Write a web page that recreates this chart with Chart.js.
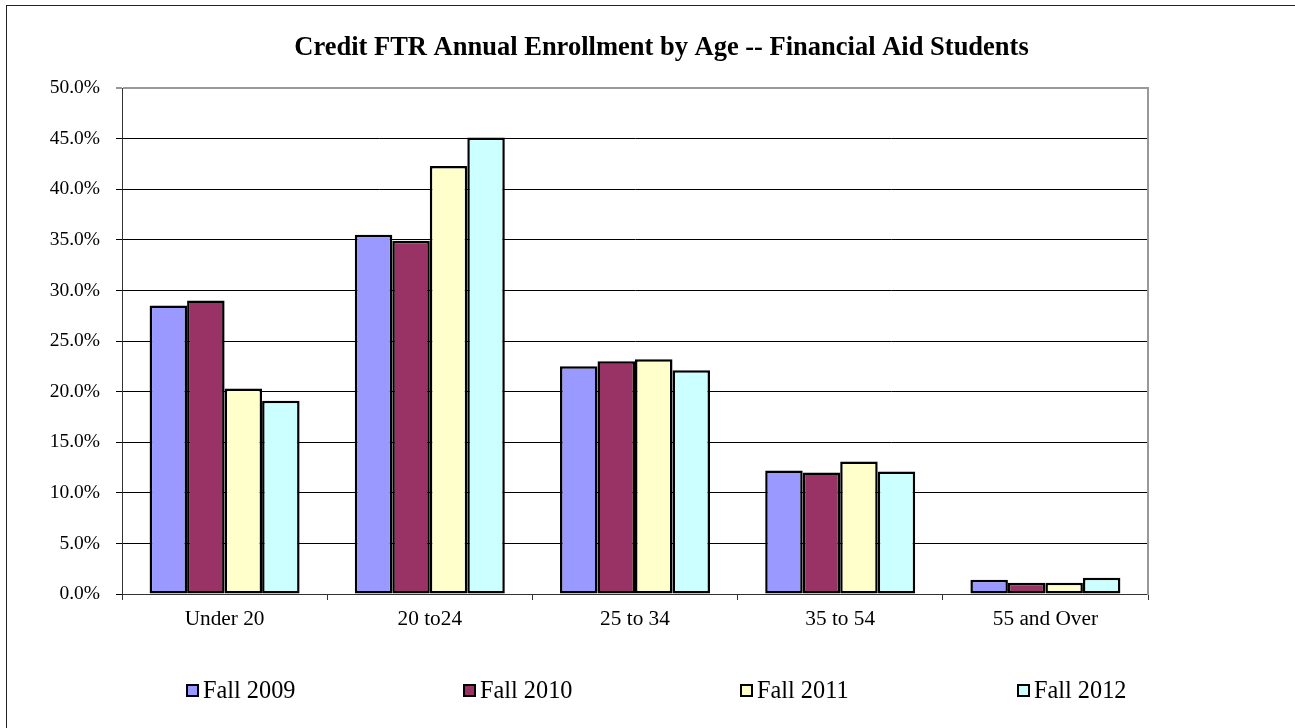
<!DOCTYPE html>
<html>
<head>
<meta charset="utf-8">
<script src="https://cdn.jsdelivr.net/npm/chart.js@4/dist/chart.umd.min.js"></script>
<style>
  html, body { margin: 0; padding: 0; background: #fff; }
  #frame { position: absolute; left: 6px; top: 5px; width: 1400px; height: 800px; border-left: 1px solid #222; border-top: 1px solid #222; }
  #wrap { position: absolute; left: 0; top: 0; width: 1295px; height: 728px; }
</style>
</head>
<body>
<div id="frame"></div>
<div id="wrap"><canvas id="c" width="1295" height="728"></canvas></div>
<script>
const titleText = 'Credit FTR Annual Enrollment by Age -- Financial Aid Students';
const categories = ['Under 20', '20 to24', '25 to 34', '35 to 54', '55 and Over'];
const seriesLabels = ['Fall 2009', 'Fall 2010', 'Fall 2011', 'Fall 2012'];
const fall2009 = [28.5, 35.5, 22.5, 12.2, 1.4];
const fall2010 = [29.0, 34.9, 23.0, 12.0, 1.1];
const fall2011 = [20.3, 42.3, 23.2, 13.1, 1.1];
const fall2012 = [19.1, 45.1, 22.1, 12.1, 1.6];
const seriesColors = ['#9999FF', '#993366', '#FFFFCC', '#CCFFFF'];
const yMin = 0, yMax = 50, yStep = 5;

const FONT = '"Liberation Serif", "Times New Roman", Times, serif';
const seriesValues = [fall2009, fall2010, fall2011, fall2012];

const legendPlugin = {
  id: 'customLegend',
  afterDraw(chart) {
    const ctx = chart.ctx;
    ctx.save();
    ctx.font = '24.3px ' + FONT;
    ctx.textBaseline = 'alphabetic';
    ctx.textAlign = 'left';
    chart.data.datasets.forEach((ds, i) => {
      const x = 186 + i * 277;
      const y = 684;
      ctx.fillStyle = ds.backgroundColor;
      ctx.fillRect(x, y, 13, 13);
      ctx.lineWidth = 2;
      ctx.strokeStyle = '#000';
      ctx.strokeRect(x + 1, y + 1, 11, 11);
      ctx.fillStyle = '#000';
      ctx.fillText(ds.label, x + 17, 697.5);
    });
    ctx.restore();
  }
};

new Chart(document.getElementById('c'), {
  type: 'bar',
  data: {
    labels: categories,
    datasets: seriesLabels.map((lab, i) => ({
      label: lab,
      data: seriesValues[i],
      backgroundColor: seriesColors[i],
      borderColor: '#000',
      borderWidth: 2.5,
      borderSkipped: false,
      categoryPercentage: 0.731,
      barPercentage: 1.0
    }))
  },
  options: {
    responsive: false,
    animation: false,
    devicePixelRatio: 1,
    layout: { padding: { left: 28, right: 0, top: 0, bottom: 94 } },
    plugins: {
      legend: { display: false },
      tooltip: { enabled: false },
      title: {
        display: true,
        text: titleText,
        color: '#000',
        font: { family: FONT, size: 26.5, weight: 'bold', lineHeight: 1.2 },
        padding: { top: 32, bottom: 24.2 }
      }
    },
    scales: {
      x: {
        offset: true,
        grid: { display: true, drawOnChartArea: false, drawTicks: true, tickLength: 6, color: '#333', offset: true },
        border: { display: true, color: '#333', width: 1 },
        ticks: { color: '#000', font: { family: FONT, size: 21.3 }, padding: 7, maxRotation: 0 },
        afterFit(s) { s.height = 40; }
      },
      y: {
        min: yMin, max: yMax,
        ticks: {
          stepSize: yStep,
          color: '#000',
          font: { family: FONT, size: 19.5 },
          padding: 16,
          callback: v => v.toFixed(1) + '%'
        },
        grid: {
          color: c => (c.tick && c.tick.value === yMax) ? '#999' : '#000',
          lineWidth: c => (c.tick && c.tick.value === yMax) ? 2 : 1,
          tickLength: 6,
          drawTicks: true
        },
        border: { display: true, color: '#333', width: 1 },
        afterFit(s) { s.width = 94; }
      },
      yRight: {
        position: 'right',
        display: true,
        min: 0, max: 1,
        ticks: { display: false },
        grid: { drawOnChartArea: false, drawTicks: false },
        border: { display: true, color: '#999', width: 2 },
        afterFit(s) { s.width = 147; }
      }
    }
  },
  plugins: [legendPlugin]
});
</script>
</body>
</html>
